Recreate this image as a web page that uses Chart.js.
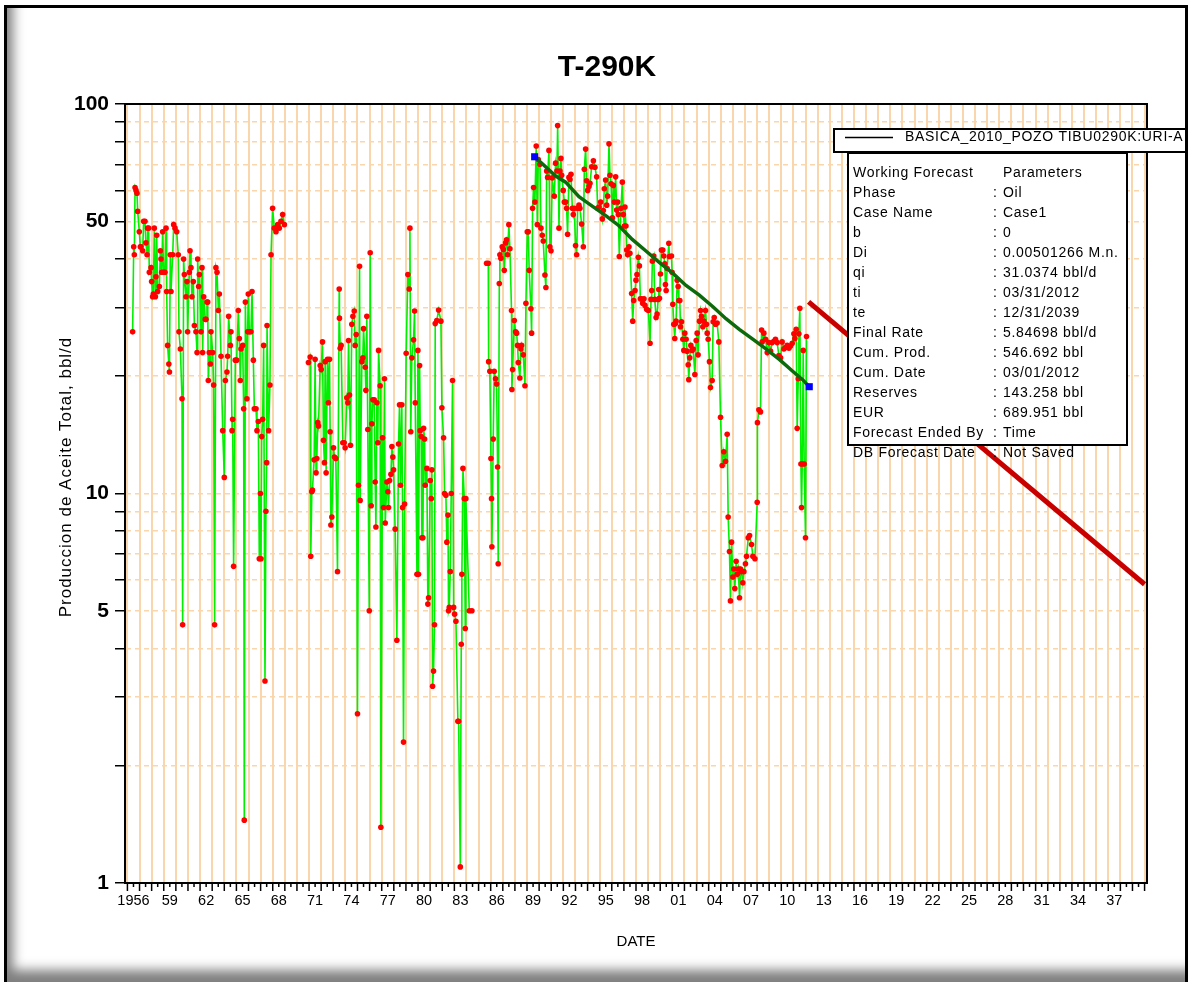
<!DOCTYPE html>
<html>
<head>
<meta charset="utf-8">
<title>T-290K</title>
<script src="https://cdn.jsdelivr.net/npm/chart.js@4.4.1/dist/chart.umd.min.js"></script>
<style>
  html, body { margin: 0; padding: 0; background: #fff; }
  #wrap { position: relative; width: 1191px; height: 982px; background: #fff; }
  #wrap::after {
    content: ''; position: absolute; left: 4px; top: 5px; right: 3px; bottom: 0;
    border: 3px solid #000; border-bottom: none;
    box-shadow: inset 12px -18px 12px -6px rgba(0, 0, 0, 0.5);
    pointer-events: none;
  }
</style>
</head>
<body>
<div id="wrap"><canvas id="declineChart"></canvas></div>
<script>
// Monthly oil rate, bbl/d (decimal years), 1956-1968
const yearsA = [1956.43,1956.52,1956.57,1956.63,1956.71,1956.79,1956.85,1956.98,1957.07,1957.12,1957.26,1957.34,1957.45,1957.53,1957.62,1957.67,1957.75,1957.81,1957.95,1958.00,1958.08,1958.14,1958.22,1958.31,1958.36,1958.42,1958.50,1958.64,1958.72,1958.77,1958.83,1958.91,1958.99,1959.10,1959.19,1959.24,1959.32,1959.42,1959.47,1959.54,1959.60,1959.74,1959.82,1959.93,1960.07,1960.20,1960.26,1960.37,1960.51,1960.56,1960.64,1960.70,1960.84,1960.92,1960.97,1961.11,1961.17,1961.25,1961.33,1961.44,1961.53,1961.66,1961.75,1961.80,1961.88,1961.94,1962.08,1962.16,1962.21,1962.30,1962.43,1962.49,1962.57,1962.63,1962.68,1962.76,1962.85,1962.90,1963.04,1963.12,1963.20,1963.31,1963.40,1963.51,1963.59,1963.73,1963.87,1964.00,1964.09,1964.22,1964.28,1964.36,1964.50,1964.55,1964.64,1964.69,1964.77,1964.91,1965.02,1965.16,1965.24,1965.32,1965.38,1965.52,1965.60,1965.65,1965.74,1965.87,1965.93,1965.98,1966.07,1966.20,1966.29,1966.40,1966.48,1966.62,1966.70,1966.81,1966.89,1966.98,1967.03,1967.09,1967.17,1967.25,1967.36,1967.44,1967.50,1967.53,1967.66,1967.77,1967.86,1967.99,1968.13,1968.27,1968.41,1968.54,1968.68,1968.82,1968.96];
const ratesA = [26,43,41,61,60,59,53,47,43,43,42,50,50,44,41,48,48,37,38,35,32,32.5,48,32,36,46,33,34,42,40,37,47,37,37,48,33,24,21.5,20.5,41,33,41,49,48,47,41,26,23.5,17.5,4.6,40,36.5,32,35,26,37,42,38,32,35,27,26,23,40,34,36.5,26,38,23,32,28,28,31,31,19.5,23,21.5,26,23,19,4.6,38,37,29.5,32.5,22.5,14.5,11,19.5,20.5,22.5,28.5,24,26,14.5,15.5,6.5,22,22,29.5,25,19.5,23.5,24,16.5,1.45,31,17.5,26,32.5,26,26,33,22,16.5,16.5,14.5,15.3,6.8,10,6.8,14,15.5,24,3.3,9,12,27,14.5,19,41,54,48,47,49,48,50,52,49];

// 1971-1984
const yearsB = [1970.95,1971.09,1971.14,1971.23,1971.28,1971.42,1971.50,1971.58,1971.64,1971.72,1971.78,1971.92,1972.00,1972.11,1972.19,1972.27,1972.33,1972.41,1972.52,1972.60,1972.69,1972.74,1972.80,1972.88,1973.02,1973.10,1973.21,1973.35,1973.49,1973.51,1973.57,1973.65,1973.79,1973.90,1973.98,1974.12,1974.20,1974.26,1974.34,1974.42,1974.53,1974.62,1974.73,1974.81,1974.89,1975.00,1975.08,1975.17,1975.22,1975.36,1975.44,1975.50,1975.64,1975.69,1975.77,1975.85,1975.97,1976.05,1976.13,1976.19,1976.27,1976.38,1976.46,1976.52,1976.60,1976.68,1976.74,1976.87,1976.93,1977.07,1977.15,1977.23,1977.29,1977.43,1977.51,1977.56,1977.65,1977.76,1977.84,1977.92,1977.98,1978.11,1978.25,1978.39,1978.47,1978.55,1978.66,1978.72,1978.80,1978.89,1979.02,1979.16,1979.27,1979.33,1979.40,1979.49,1979.63,1979.71,1979.77,1979.91,1979.99,1980.04,1980.13,1980.18,1980.26,1980.32,1980.40,1980.46,1980.54,1980.59,1980.73,1980.81,1980.87,1981.01,1981.09,1981.14,1981.20,1981.28,1981.36,1981.42,1981.55,1981.70,1981.89,1981.97,1982.11,1982.19,1982.30,1982.38,1982.47,1982.52,1982.58,1982.66,1982.74,1982.85,1982.94,1983.02,1983.13,1983.29,1983.35,1983.49,1983.57,1983.62,1983.71,1983.82,1983.90,1983.95,1984.23,1984.45];
const ratesB = [21.7,22.4,6.9,10.1,10.2,12.2,22.1,11.3,12.3,15.2,14.9,21.3,20.8,24.5,13.7,12,21.8,11.3,22.1,17.1,22.1,14.4,8.3,8.7,13.1,12.4,12.3,6.3,33.5,28.2,23.6,24,13.5,13.5,13.1,17.6,17.1,24.7,17.9,13.3,27.2,28.5,29.4,24,25.6,2.72,10.5,38.3,9.6,21.8,22.3,26.5,21.1,18.4,28.5,14.6,5,41.5,9.3,15.1,17.4,17.4,10.7,8.2,17.1,13.5,23.3,18.9,1.39,13.9,9.2,19.7,8.4,10.7,10.1,9.2,10.8,11.2,13.2,12.4,11.5,8.1,4.2,13.4,16.9,10.5,16.9,9.2,2.3,9.4,22.9,36.5,33.5,48,14.4,22.3,24.8,29.4,17.1,6.2,23.3,6.2,21.3,14.5,14,7.7,7.7,14.7,13.8,10.5,11.6,5.2,5.4,10.8,9.7,11.5,3.2,3.5,4.6,27.3,27.8,29.6,27.7,16.6,13.9,10,9.9,7.5,8.8,5,5.1,6.3,10,19.5,5.1,4.9,4.7,2.6,2.6,1.1,4.1,6.2,11.6,9.7,4.5,9.7,5,5];

// 1985-2012
const yearsC = [1985.66,1985.80,1985.83,1985.93,1986.02,1986.07,1986.10,1986.21,1986.29,1986.40,1986.49,1986.57,1986.62,1986.71,1986.76,1986.84,1986.95,1987.04,1987.12,1987.23,1987.31,1987.39,1987.50,1987.59,1987.72,1987.75,1987.81,1987.95,1988.06,1988.14,1988.22,1988.28,1988.41,1988.50,1988.55,1988.69,1988.83,1988.91,1989.02,1989.10,1989.18,1989.32,1989.38,1989.46,1989.54,1989.65,1989.76,1989.85,1989.93,1990.07,1990.15,1990.26,1990.34,1990.48,1990.56,1990.62,1990.70,1990.81,1990.89,1990.98,1991.08,1991.25,1991.36,1991.47,1991.53,1991.64,1991.72,1991.80,1991.86,1991.99,1992.08,1992.19,1992.27,1992.35,1992.46,1992.55,1992.63,1992.74,1992.82,1992.90,1993.01,1993.10,1993.18,1993.29,1993.37,1993.51,1993.65,1993.73,1993.84,1993.92,1994.01,1994.12,1994.20,1994.34,1994.48,1994.61,1994.75,1994.83,1994.94,1995.08,1995.22,1995.30,1995.38,1995.49,1995.58,1995.66,1995.77,1995.85,1995.94,1996.05,1996.13,1996.21,1996.32,1996.40,1996.49,1996.54,1996.62,1996.76,1996.87,1996.95,1997.04,1997.09,1997.17,1997.23,1997.31,1997.42,1997.50,1997.64,1997.73,1997.81,1997.92,1998.00,1998.08,1998.19,1998.28,1998.36,1998.47,1998.55,1998.66,1998.74,1998.88,1999.02,1999.16,1999.24,1999.30,1999.35,1999.47,1999.55,1999.66,1999.74,1999.83,1999.88,1999.94,2000.02,2000.10,2000.21,2000.30,2000.38,2000.43,2000.49,2000.57,2000.71,2000.76,2000.93,2000.98,2001.04,2001.12,2001.20,2001.26,2001.31,2001.40,2001.48,2001.54,2001.62,2001.67,2001.76,2001.87,2001.95,2002.03,2002.14,2002.22,2002.31,2002.36,2002.44,2002.53,2002.64,2002.72,2002.86,2002.97,2003.05,2003.13,2003.24,2003.33,2003.41,2003.52,2003.60,2003.74,2003.82,2003.88,2003.96,2004.07,2004.15,2004.29,2004.37,2004.46,2004.57,2004.70,2004.84,2004.98,2005.12,2005.25,2005.39,2005.53,2005.61,2005.72,2005.80,2005.89,2006.00,2006.08,2006.16,2006.27,2006.36,2006.44,2006.55,2006.63,2006.71,2006.82,2006.91,2007.04,2007.13,2007.27,2007.38,2007.54,2007.65,2007.82,2008.01,2008.03,2008.15,2008.28,2008.37,2008.42,2008.56,2008.70,2008.84,2008.97,2009.11,2009.25,2009.39,2009.52,2009.66,2009.80,2009.94,2010.07,2010.21,2010.35,2010.49,2010.63,2010.76,2010.90,2011.04,2011.12,2011.23,2011.31,2011.40,2011.45,2011.53,2011.62,2011.67,2011.73,2011.81,2011.89,2012.00,2012.08];
const ratesC = [39,39,21.8,20.6,12.3,9.7,7.3,13.8,20.6,19.7,19.1,11.7,6.6,34.6,41,40.2,43,42.3,37.4,44,44.8,41,49,42.5,29.5,18.5,20.8,27.8,26,25.8,24,21.7,19.8,23.5,24,22.7,18.9,30.8,47,47,37.4,29.8,25.8,54,61,56,78,49,72,70,48,46,44.5,36.4,33.8,67.3,64.8,76,43,42,64.6,58,70.5,67.3,88,48,67.3,72.5,65.6,60,56,56,54,46.3,64.8,64,66,54,52,54,43.3,41,54,55,54,49.2,43,68,76.6,63.5,60,61.4,62.6,69,71.5,68.8,65,54,54.4,56,50.7,53.3,60.6,63.8,55,58,79,65.6,62.4,51,61.8,56,65,53.4,56,52,40.6,54,63,52,48.6,54.4,48.6,42.2,41,43,41.4,32.6,27.7,31.3,33.2,35.3,36.5,40.4,38.4,31.6,31.6,30.8,31.6,30.4,29.7,29.5,24.3,31.5,33.2,39.5,40.7,31.5,28.3,28.9,31.5,33.4,31.7,36.6,42.2,42.2,40.7,38.9,34.4,33.2,37.8,43.9,40.6,40.7,37,30.6,27.2,25,27.3,27.7,35.3,34,31.3,31.3,26.8,27.6,24.9,23.3,25.8,24.9,23.2,21.4,19.6,22.3,24,23.3,23.5,20.2,24.7,25.8,22.7,27.7,29.5,28.5,26.8,27.7,29.5,27.2,25.8,24.9,21.8,18.7,19.5,27.6,28.3,27.2,27.4,24.5,15.7,11.8,12.8,12.1,14.2,8.7,7.1,5.3,7.5,6.1,6.4,5.7,6.7,6.2,6.4,5.4,6.4,6.3,5.9,6.3,6.6,6.9,7.7,7.8,7.4,6.9,6.8,9.5,15.2,16.4,16.2,26.3,24.5,25.8,24.9,23,24.4,23.2,24.4,24.6,24.9,24.4,22.6,22.3,24.5,23.5,23.7,24,23.6,23.9,24.3,25.7,25,26.4,14.7,19.7,25.7,29.9,11.9,9.2,11.9,23.3,11.9,7.7,25.3];

// Decline fit over the 1989-2012 history
const fitYears = [1989.63,1991.37,1992.19,1993.29,1994.12,1995.50,1996.59,1997.69,1998.80,1999.92,2001.03,2002.13,2003.23,2004.33,2005.43,2006.53,2007.64,2008.73,2009.83,2010.94,2011.76,2012.31];
const fitRates = [73.2,65.3,63.0,57.8,55.4,51.7,48.7,44.9,42.0,39.2,36.8,34.2,32.3,30.2,28.1,26.4,24.9,23.5,22.1,20.6,19.6,18.8];

// Working forecast: qi at ti, final rate at te
const fcstYears = [2012.25, 2040.0];
const fcstRates = [31.0374, 5.84698];

const yLabelValues = [1, 5, 10, 50, 100];
const yTickValues = [1,2,3,4,5,6,7,8,9,10,20,30,40,50,60,70,80,90,100];

const legendText = 'BASICA_2010_POZO TIBU0290K:URI-A';
const paramRows = [
  ['Phase', 'Oil'], ['Case Name', 'Case1'], ['b', '0'], ['Di', '0.00501266 M.n.'],
  ['qi', '31.0374 bbl/d'], ['ti', '03/31/2012'], ['te', '12/31/2039'],
  ['Final Rate', '5.84698 bbl/d'], ['Cum. Prod.', '546.692 bbl'], ['Cum. Date', '03/01/2012'],
  ['Reserves', '143.258 bbl'], ['EUR', '689.951 bbl'], ['Forecast Ended By', 'Time'],
  ['DB Forecast Date', 'Not Saved']
];

const FONT = "'Liberation Sans', Arial, sans-serif";
const PEACH = '#FAD6AC';

const toPoints = (xs, ys) => xs.map((x, i) => ({ x, y: ys[i] }));

// join the three producing periods, breaking the line between them
const production = [];
[[yearsA, ratesA], [yearsB, ratesB], [yearsC, ratesC]].forEach(([xs, ys], k) => {
  if (k > 0) production.push({ x: xs[0] - 0.1, y: null });
  production.push(...toPoints(xs, ys));
});
const fitLine = toPoints(fitYears, fitRates);
const fitEnds = [fitLine[0], fitLine[fitLine.length - 1]];

const overlay = {
  id: 'overlay',
  afterDraw(chart) {
    const { ctx, chartArea: a, scales: { x } } = chart;
    ctx.save();

    // frame on top and right of the plot
    ctx.strokeStyle = '#000';
    ctx.lineWidth = 2;
    ctx.beginPath();
    ctx.moveTo(a.left, a.top); ctx.lineTo(a.right, a.top); ctx.lineTo(a.right, a.bottom);
    ctx.stroke();

    // year and half-year tick marks under the date axis
    ctx.lineWidth = 1.5;
    x.ticks.forEach(t => {
      const px = x.getPixelForValue(t.value);
      const len = Number.isInteger(t.value) ? 8 : 4;
      ctx.beginPath(); ctx.moveTo(px, a.bottom); ctx.lineTo(px, a.bottom + len); ctx.stroke();
    });

    // title
    ctx.fillStyle = '#000';
    ctx.font = 'bold 30px ' + FONT;
    ctx.textAlign = 'center';
    ctx.textBaseline = 'middle';
    ctx.fillText('T-290K', 607, 68);

    // y axis title
    ctx.save();
    ctx.translate(66, 477);
    ctx.rotate(-Math.PI / 2);
    ctx.font = '17px ' + FONT;
    ctx.letterSpacing = '1px';
    ctx.fillText('Produccion de Aceite Total, bbl/d', 0, 0);
    ctx.restore();

    ctx.font = '14px ' + FONT;
    ctx.letterSpacing = '0.7px';
    ctx.textAlign = 'left';

    // legend
    ctx.fillStyle = '#fff';
    ctx.fillRect(834, 129, 353, 23);
    ctx.strokeStyle = '#000';
    ctx.lineWidth = 2;
    ctx.strokeRect(834, 129, 353, 23);
    ctx.lineWidth = 1.5;
    ctx.beginPath(); ctx.moveTo(845, 137.5); ctx.lineTo(893, 137.5); ctx.stroke();
    ctx.fillStyle = '#000';
    ctx.fillText(legendText, 905, 137.5);

    // forecast parameter box
    ctx.fillStyle = '#fff';
    ctx.fillRect(848, 153, 279, 292);
    ctx.lineWidth = 2;
    ctx.strokeRect(848, 153, 279, 292);
    ctx.fillStyle = '#000';
    ctx.fillText('Working Forecast', 853, 173);
    ctx.fillText('Parameters', 1003, 173);
    paramRows.forEach(([k, v], i) => {
      const y = 193 + i * 20;
      ctx.fillText(k, 853, y);
      ctx.fillText(':', 993, y);
      ctx.fillText(v, 1003, y);
    });
    ctx.restore();
  }
};

new Chart(document.getElementById('declineChart'), {
  type: 'line',
  data: {
    datasets: [
      {
        label: 'Oil rate',
        data: production,
        borderColor: '#00F000',
        borderWidth: 1.6,
        pointRadius: 2.8,
        pointBackgroundColor: '#FF0000',
        pointBorderWidth: 0,
        spanGaps: false,
        order: 4
      },
      {
        label: 'Forecast',
        data: toPoints(fcstYears, fcstRates),
        borderColor: '#C80000',
        borderWidth: 5,
        pointRadius: 0,
        order: 3
      },
      {
        label: 'Fit',
        data: fitLine,
        borderColor: '#0C6A0C',
        borderWidth: 3.5,
        pointRadius: 0,
        order: 2
      },
      {
        label: 'Fit ends',
        data: fitEnds,
        showLine: false,
        pointStyle: 'rect',
        pointRadius: 5,
        pointBackgroundColor: '#0000FF',
        pointBorderWidth: 0,
        order: 1
      }
    ]
  },
  options: {
    responsive: true,
    maintainAspectRatio: false,
    animation: false,
    events: [],
    layout: { padding: { left: 0, top: 104, right: 44, bottom: 0 } },
    plugins: {
      legend: { display: false },
      tooltip: { enabled: false },
      title: { display: false }
    },
    scales: {
      x: {
        type: 'linear',
        min: 1955.8,
        max: 2040.2,
        afterFit: s => { s.height = 99; },
        afterBuildTicks: s => {
          const t = [];
          for (let v = 1956; v <= 2040; v += 0.5) t.push({ value: v });
          s.ticks = t;
        },
        grid: {
          color: c => Number.isInteger(c.tick.value) ? PEACH : 'rgba(0,0,0,0)',
          lineWidth: 2,
          drawTicks: false
        },
        border: { display: true, color: '#000', width: 2 },
        ticks: {
          autoSkip: false,
          maxRotation: 0,
          padding: 9,
          color: '#000',
          font: { family: FONT, size: 14.5 },
          callback: v => {
            const y = v - 0.5;
            if (!Number.isInteger(y) || (y - 1956) % 3 !== 0) return '';
            return y === 1956 ? '1956' : String(y % 100).padStart(2, '0');
          }
        },
        title: {
          display: true,
          text: 'DATE',
          color: '#000',
          font: { family: FONT, size: 15 },
          padding: { top: 0, bottom: 31 }
        }
      },
      y: {
        type: 'logarithmic',
        min: 1,
        max: 100,
        afterFit: s => { s.width = 125; },
        afterBuildTicks: s => { s.ticks = yTickValues.map(v => ({ value: v })); },
        grid: {
          color: c => (c.tick.value === 1 || c.tick.value === 100) ? 'rgba(0,0,0,0)' : PEACH,
          lineWidth: 1.5,
          tickBorderDash: [],
          tickColor: '#000',
          tickWidth: 1.5,
          tickLength: 10
        },
        // in Chart.js v4 the dash of the grid lines lives under border
        border: { display: true, color: '#000', width: 2, dash: [5, 4] },
        ticks: {
          autoSkip: false,
          padding: 6,
          color: '#000',
          font: { family: FONT, size: 21, weight: 'bold' },
          callback: v => yLabelValues.includes(v) ? String(v) : ''
        }
      }
    }
  },
  plugins: [overlay]
});
</script>
</body>
</html>
